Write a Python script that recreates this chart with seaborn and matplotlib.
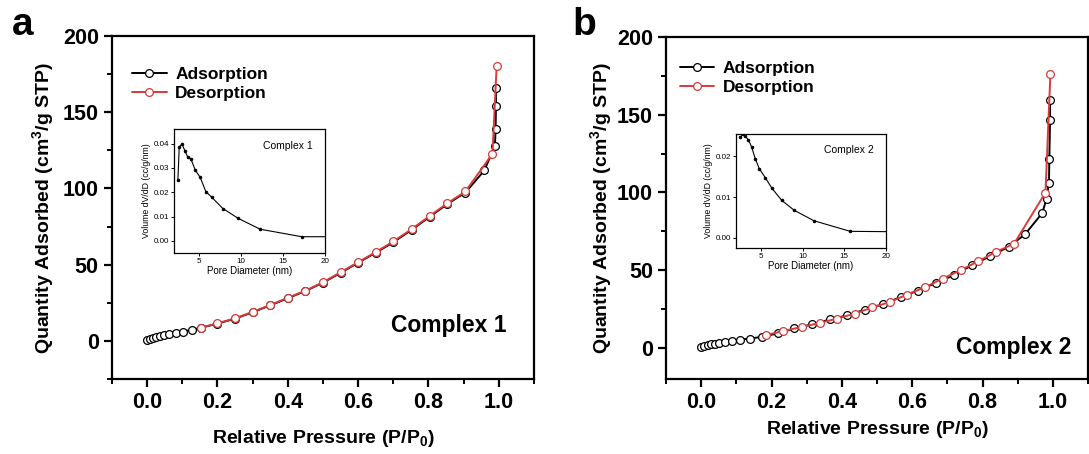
import matplotlib; matplotlib.use("Agg")
import matplotlib.pyplot as plt
from matplotlib.ticker import MultipleLocator
import numpy as np
import pandas as pd
import seaborn as sns

# ──────────────────────────────────────────────────────────
# Data
# ──────────────────────────────────────────────────────────
ads1_p = [0.0, 0.007, 0.016, 0.026, 0.037, 0.049, 0.062, 0.081, 0.101, 0.127, 0.154,
          0.2, 0.25, 0.3, 0.35, 0.4, 0.45, 0.5, 0.55, 0.6, 0.65, 0.7, 0.752, 0.804,
          0.854, 0.905, 0.959, 0.989, 0.991, 0.992, 0.992]
ads1_q = [0.3, 1.0, 1.8, 2.4, 3.0, 3.6, 4.2, 5.0, 6.0, 7.3, 8.7,
          11.3, 14.6, 18.8, 23.3, 28.0, 32.7, 38.2, 44.6, 51.3, 57.8, 64.7, 72.8, 81.5,
          89.8, 97.3, 111.8, 128.0, 139.0, 154.0, 165.8]
des1_p = [0.994, 0.982, 0.905, 0.854, 0.804, 0.752, 0.7, 0.65, 0.6, 0.55, 0.5,
          0.45, 0.4, 0.35, 0.3, 0.25, 0.2, 0.154]
des1_q = [180.5, 122.7, 98.0, 90.3, 82.0, 73.3, 65.2, 58.2, 51.6, 45.0, 38.4,
          32.9, 28.3, 23.5, 19.0, 14.8, 11.5, 8.7]

ads2_p = [0.0, 0.0085, 0.018, 0.028, 0.040, 0.052, 0.068, 0.087, 0.111, 0.139, 0.172,
          0.217, 0.265, 0.316, 0.366, 0.416, 0.466, 0.516, 0.568, 0.617, 0.669, 0.719,
          0.77, 0.822, 0.874, 0.921, 0.97, 0.982, 0.989, 0.99, 0.992, 0.992]
ads2_q = [0.6, 1.2, 1.6, 2.2, 2.8, 3.2, 3.9, 4.6, 5.4, 6.0, 7.1,
          9.3, 12.5, 15.2, 18.3, 21.0, 24.7, 28.1, 32.8, 36.9, 41.9, 46.8,
          53.2, 59.0, 65.0, 73.1, 86.8, 96.0, 106.4, 121.3, 146.9, 159.3]
des2_p = [0.993, 0.979, 0.89, 0.838, 0.788, 0.738, 0.687, 0.636, 0.584, 0.537, 0.487,
          0.437, 0.387, 0.338, 0.286, 0.234, 0.183]
des2_q = [176.0, 99.9, 67.1, 61.7, 55.8, 50.0, 44.6, 39.0, 34.2, 29.6, 26.0,
          22.1, 18.9, 16.1, 13.5, 10.9, 8.2]

psd1_d = [2.46, 2.62, 2.94, 3.33, 3.61, 4.01, 4.52, 5.12, 5.8, 6.51, 7.82, 9.68, 12.26, 17.23, 21.0]
psd1_v = [0.025, 0.0385, 0.0399, 0.0368, 0.0346, 0.0337, 0.0292, 0.0261, 0.0202, 0.0179,
          0.0133, 0.0092, 0.0048, 0.0017, 0.0017]
psd2_d = [2.54, 2.82, 3.13, 3.49, 3.89, 4.32, 4.8, 5.51, 6.31, 7.5, 8.97, 11.35, 15.71, 21.0]
psd2_v = [0.0247, 0.0254, 0.0249, 0.0241, 0.0223, 0.0194, 0.017, 0.0148, 0.0122, 0.0092,
          0.0068, 0.0042, 0.0016, 0.0015]

ADS_COLOR = "black"
DES_COLOR = "#d93a3a"


def configure_plot_style():
    sns.set_theme(style="ticks")
    plt.rcParams.update({
        "font.family": ["Liberation Sans", "DejaVu Sans"],
        "font.weight": "bold",
        "mathtext.fontset": "custom",
        "mathtext.rm": "Liberation Sans:bold",
        "mathtext.bf": "Liberation Sans:bold",
        "mathtext.default": "bf",
        "axes.linewidth": 1.6,
        "axes.edgecolor": "black",
        "axes.labelcolor": "black",
        "text.color": "black",
        "xtick.color": "black",
        "ytick.color": "black",
        "xtick.labelcolor": "black",
        "ytick.labelcolor": "black",
    })


def iso_curve(ax, p, q, color, label):
    sns.lineplot(x=p, y=q, ax=ax, estimator=None, sort=False, color=color,
                 linewidth=1.4, marker="o", markersize=5.6, markerfacecolor="white",
                 markeredgecolor=color, markeredgewidth=0.9, label=label)


def main_axes(ax, ylim, text, text_xy, legend_xy, xpad, ypad):
    ax.set_xlim(-0.1, 1.1)
    ax.set_ylim(*ylim)
    ax.xaxis.set_major_locator(MultipleLocator(0.2))
    ax.xaxis.set_minor_locator(MultipleLocator(0.1))
    ax.yaxis.set_major_locator(MultipleLocator(50))
    ax.yaxis.set_minor_locator(MultipleLocator(25))
    ax.xaxis.set_major_formatter(plt.FuncFormatter(lambda v, _: f"{v:.1f}"))
    ax.tick_params(which="major", direction="out", length=6, width=1.6, labelsize=15.5)
    ax.tick_params(which="minor", direction="out", length=3.5, width=1.4)
    for lab in ax.get_xticklabels() + ax.get_yticklabels():
        lab.set_fontweight("bold")
    ax.set_xlabel("Relative Pressure (P/P$_0$)", fontsize=14, fontweight="bold", labelpad=xpad)
    ax.set_ylabel("Quantity Adsorbed (cm$^3$/g STP)", fontsize=14, fontweight="bold", labelpad=ypad)
    ax.legend(loc="upper left", bbox_to_anchor=legend_xy, frameon=False,
              prop={"size": 12.5, "weight": "bold"}, handlelength=2.0,
              handletextpad=0.5, labelspacing=0.2)
    ax.text(*text_xy, text, transform=ax.transAxes, ha="right", va="center",
            fontsize=16.5, fontweight="bold")


def inset_axes(fig, rect, d, v, ylim, yticks, text):
    ax = fig.add_axes(rect)
    sns.lineplot(x=d, y=v, ax=ax, estimator=None, sort=False, color="black",
                 linewidth=0.8, marker="o", markersize=1.8, markeredgecolor="black")
    ax.set_xlim(2, 20)
    ax.set_ylim(*ylim)
    ax.set_xticks([5, 10, 15, 20])
    ax.set_yticks(yticks)
    ax.yaxis.set_major_formatter(plt.FuncFormatter(lambda val, _: f"{val:.2f}"))
    for s in ax.spines.values():
        s.set_linewidth(0.9)
    ax.tick_params(direction="out", length=2, width=0.7, labelsize=5.8, pad=1.5)
    ax.set_xlabel("Pore Diameter (nm)", fontsize=7, fontweight="normal", labelpad=1)
    ax.set_ylabel("Volume dV/dD (cc/g/nm)", fontsize=6.3, fontweight="normal", labelpad=2)
    for lab in ax.get_xticklabels() + ax.get_yticklabels():
        lab.set_fontweight("normal")
    ax.text(0.92, 0.86, text, transform=ax.transAxes, ha="right", va="center", fontsize=7.5,
            fontweight="normal")
    return ax


configure_plot_style()
fig = plt.figure(figsize=(10.89, 4.54), dpi=100)

ax1 = fig.add_axes([0.1028, 0.1652, 0.3875, 0.7555])
iso_curve(ax1, ads1_p, ads1_q, ADS_COLOR, "Adsorption")
iso_curve(ax1, des1_p, des1_q, DES_COLOR, "Desorption")
main_axes(ax1, (-25, 200), "Complex 1", (0.935, 0.157), (0.01, 0.955), 11, 5)

ax2 = fig.add_axes([0.6116, 0.1652, 0.3875, 0.7533])
iso_curve(ax2, ads2_p, ads2_q, ADS_COLOR, "Adsorption")
iso_curve(ax2, des2_p, des2_q, DES_COLOR, "Desorption")
main_axes(ax2, (-20, 200), "Complex 2", (0.96, 0.093), (-0.005, 0.975), 4, 2)

inset_axes(fig, [0.1598, 0.4427, 0.1387, 0.2731], psd1_d, psd1_v, (-0.005, 0.046),
           [0.0, 0.01, 0.02, 0.03, 0.04], "Complex 1")
inset_axes(fig, [0.6758, 0.4537, 0.1377, 0.2511], psd2_d, psd2_v, (-0.0025, 0.0255),
           [0.0, 0.01, 0.02], "Complex 2")

fig.text(0.011, 0.985, "a", fontsize=28, fontweight="bold", va="top", ha="left")
fig.text(0.526, 0.985, "b", fontsize=28, fontweight="bold", va="top", ha="left")

fig.savefig("out.png", dpi=100, facecolor="white")
plt.close(fig)
